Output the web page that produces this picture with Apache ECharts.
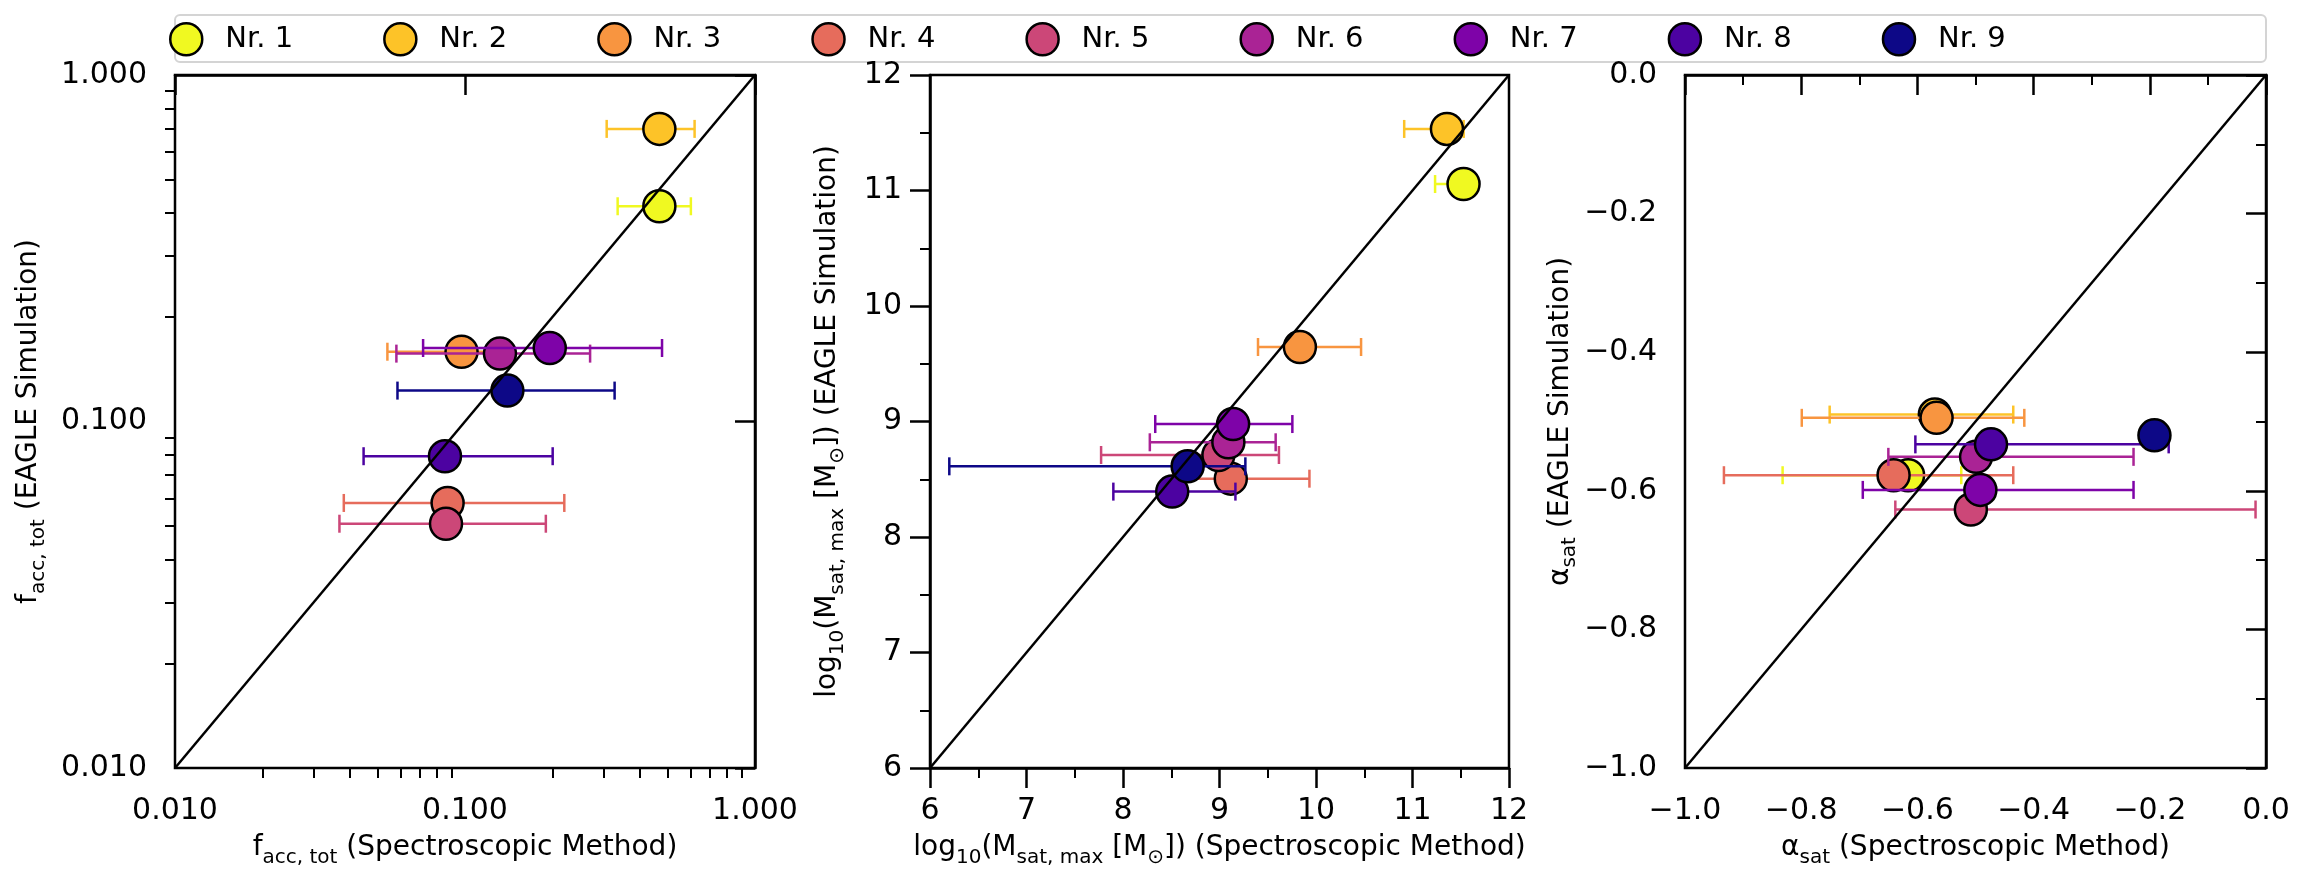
<!DOCTYPE html>
<html>
<head>
<meta charset="utf-8">
<script src="https://cdn.jsdelivr.net/npm/echarts@6/dist/echarts.min.js"></script>
<style>
  html, body { margin: 0; padding: 0; background: #fff; }
  #chart-container { width: 2307px; height: 884px; }
</style>
</head>
<body>
<div id="chart-container"></div>
<script>
const names = ["Nr. 1", "Nr. 2", "Nr. 3", "Nr. 4", "Nr. 5", "Nr. 6", "Nr. 7", "Nr. 8", "Nr. 9"];
const colors = ["#f0f921", "#fdc328", "#f89540", "#e66c5c", "#cc4778", "#aa2395", "#7e03a8", "#4c02a1", "#0d0887"];

// panel 1: f_acc,tot
const faccSpec = [0.468, 0.468, 0.0973, 0.0871, 0.086, 0.132, 0.196, 0.0853, 0.140];
const faccSpecLo = [0.336, 0.308, 0.054, 0.0382, 0.0369, 0.058, 0.0717, 0.0447, 0.0585];
const faccSpecHi = [0.601, 0.619, 0.14, 0.220, 0.190, 0.270, 0.478, 0.2006, 0.328];
const faccSim = [0.418, 0.699, 0.159, 0.0582, 0.0507, 0.157, 0.163, 0.0794, 0.1228];

// panel 2: log10(M_sat,max)
const mSpec = [11.529, 11.357, 9.833, 9.117, 8.989, 9.092, 9.141, 8.51, 8.67];
const mSpecLo = [11.234, 10.914, 9.399, 8.52, 7.773, 8.278, 8.334, 7.9, 6.2];
const mSpecHi = [11.6, 11.53, 10.467, 9.932, 9.616, 9.582, 9.755, 9.165, 9.268];
const mSim = [11.056, 11.533, 9.645, 8.505, 8.71, 8.82, 8.978, 8.393, 8.612];

// panel 3: alpha_sat
const aSpec = [-0.616, -0.570, -0.567, -0.641, -0.508, -0.499, -0.4916, -0.4733, -0.192];
const aSpecLo = [-0.832, -0.751, -0.799, -0.933, -0.638, -0.650, -0.694, -0.6035, -0.192];
const aSpecHi = [-0.5245, -0.435, -0.416, -0.435, -0.018, -0.228, -0.228, -0.1675, -0.192];
const aSim = [-0.5775, -0.490, -0.4947, -0.5775, -0.627, -0.551, -0.5987, -0.533, -0.520];

const logMinor = [0.02, 0.03, 0.04, 0.05, 0.06, 0.07, 0.08, 0.09, 0.2, 0.3, 0.4, 0.5, 0.6, 0.7, 0.8, 0.9];
const ranges = [[0.01, 1], [6, 12], [-1, 0]];

(() => {
  var dom = document.getElementById("chart-container");
  // @ts-ignore
  var chart = echarts.init(dom, null, { renderer: "canvas" });

  const font = "DejaVu Sans";
  const rich = {
    m: { fontSize: 28, fontFamily: font, color: "#000", lineHeight: 40, verticalAlign: "middle" },
    s: { fontSize: 20, fontFamily: font, color: "#000", lineHeight: 24, verticalAlign: "bottom" },
  };
  const mName = (tail) => `{m|log}{s|10}{m|(M}{s|sat, max}{m| [M}{s|⊙}{m|]) ${tail}}`;

  const panels = [
    { spec: faccSpec, lo: faccSpecLo, hi: faccSpecHi, sim: faccSim },
    { spec: mSpec, lo: mSpecLo, hi: mSpecHi, sim: mSim },
    { spec: aSpec, lo: aSpecLo, hi: aSpecHi, sim: aSim },
  ];
  const xNames = [
    "{m|f}{s|acc, tot}{m| (Spectroscopic Method)}",
    mName("(Spectroscopic Method)"),
    "{m|α}{s|sat}{m| (Spectroscopic Method)}",
  ];
  const yNames = [
    "{m|f}{s|acc, tot}{m| (EAGLE Simulation)}",
    mName("(EAGLE Simulation)"),
    "{m|α}{s|sat}{m| (EAGLE Simulation)}",
  ];
  const yGaps = [126, 82, 85];
  const lefts = [175, 930, 1685];
  const widths = [580, 579, 581];

  const fmt = [
    (v) => v.toFixed(3),
    (v) => String(Math.round(v)),
    (v) => v.toFixed(1).replace("-", "\u2212"),
  ];

  const axisBase = (i) => ({
    gridIndex: i,
    min: ranges[i][0],
    max: ranges[i][1],
    splitLine: { show: false },
    axisLine: { lineStyle: { color: "#000", width: 2.5 } },
    axisTick: { length: 20, lineStyle: { color: "#000", width: 2.5 } },
    minorTick: { show: i > 0, splitNumber: 2, length: 10, lineStyle: { color: "#000", width: 2 } },
    axisLabel: { fontSize: 30, fontFamily: font, color: "#000", margin: 28, formatter: fmt[i] },
    nameLocation: "middle",
    nameTextStyle: { rich: rich },
  });
  const axisType = (i) =>
    i === 0 ? { type: "log", logBase: 10 } : { type: "value", interval: i === 1 ? 1 : 0.2 };

  // tick-only axis in log10 space carrying the minor ticks of the log panel
  const minorAxis = (pos) => ({
    type: "value",
    gridIndex: 0,
    position: pos,
    min: Math.log10(ranges[0][0]),
    max: Math.log10(ranges[0][1]),
    axisLine: { show: false },
    axisLabel: { show: false },
    splitLine: { show: false },
    axisTick: {
      show: true,
      length: 10,
      lineStyle: { color: "#000", width: 2 },
      customValues: logMinor.map((v) => Math.log10(v)),
    },
  });

  const xAxis = [0, 1, 2].map((i) =>
    Object.assign(axisBase(i), axisType(i), { name: xNames[i], nameGap: 60 })
  );
  xAxis.push(minorAxis("bottom"));
  const yAxis = [0, 1, 2].map((i) =>
    Object.assign(axisBase(i), axisType(i), { name: yNames[i], nameGap: yGaps[i] })
  );
  yAxis.push(minorAxis("left"));

  const grid = [0, 1, 2].map((i) => ({
    left: lefts[i],
    top: 75,
    width: widths[i],
    height: 693,
    show: true,
    borderColor: "#000",
    borderWidth: 2.5,
  }));

  const errItem = (params, api) => {
    const y = api.value(1);
    const p0 = api.coord([api.value(2), y]);
    const p1 = api.coord([api.value(3), y]);
    if (p1[0] - p0[0] < 1) return;
    const style = { stroke: api.visual("color"), lineWidth: 2.5 };
    return {
      type: "group",
      children: [
        { type: "line", shape: { x1: p0[0], y1: p0[1], x2: p1[0], y2: p1[1] }, style },
        { type: "line", shape: { x1: p0[0], y1: p0[1] - 9, x2: p0[0], y2: p0[1] + 9 }, style },
        { type: "line", shape: { x1: p1[0], y1: p1[1] - 9, x2: p1[0], y2: p1[1] + 9 }, style },
      ],
    };
  };

  const series = [];
  panels.forEach((p, i) => {
    names.forEach((n, k) => {
      series.push({
        name: "err " + n,
        type: "custom",
        xAxisIndex: i,
        yAxisIndex: i,
        renderItem: errItem,
        clip: false,
        itemStyle: { color: colors[k] },
        data: [[p.spec[k], p.sim[k], p.lo[k], p.hi[k]]],
        z: 3 + 2 * k,
        silent: true,
      });
      series.push({
        name: n,
        type: "scatter",
        xAxisIndex: i,
        yAxisIndex: i,
        symbolSize: 32,
        itemStyle: { color: colors[k], borderColor: "#000", borderWidth: 2.5, opacity: 1 },
        data: [[p.spec[k], p.sim[k]]],
        z: 4 + 2 * k,
        silent: true,
      });
    });
    series.push({
      type: "line",
      xAxisIndex: i,
      yAxisIndex: i,
      data: [ranges[i], ranges[i]].map((r, j) => [r[j], r[j]]),
      symbol: "none",
      lineStyle: { color: "#000", width: 2.5 },
      z: 40,
      silent: true,
    });
  });

  const option = {
    animation: false,
    backgroundColor: "#fff",
    textStyle: { fontFamily: font },
    graphic: [
      {
        type: "rect",
        shape: { x: 175, y: 15, width: 2091, height: 47, r: 5 },
        style: { fill: "#fff", stroke: "#d4d4d4", lineWidth: 2 },
        z: 0,
      },
    ],
    legend: {
      left: 169,
      top: 22,
      padding: 0,
      itemWidth: 68,
      itemHeight: 32,
      itemGap: 90,
      selectedMode: false,
      textStyle: { fontSize: 29, fontFamily: font, color: "#000", width: 80 },
      data: names.map((n, k) => ({
        name: n,
        icon: "circle",
        itemStyle: { color: colors[k], borderColor: "#000", borderWidth: 2.5 },
      })),
    },
    grid,
    xAxis,
    yAxis,
    series,
  };

  chart.setOption(option);
  window.addEventListener("resize", chart.resize);
})();
</script>
</body>
</html>
